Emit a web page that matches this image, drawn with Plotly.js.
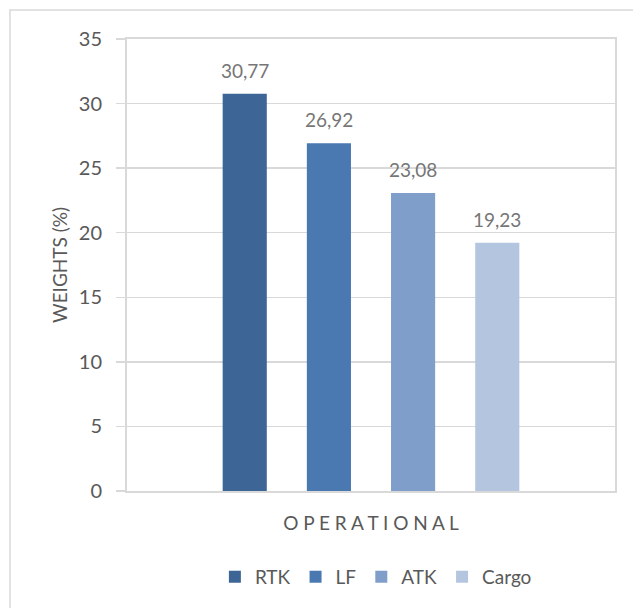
<!DOCTYPE html>
<html>
<head>
<meta charset="utf-8">
<script src="https://cdn.plot.ly/plotly-3.0.1.min.js"></script>
<style>html,body{margin:0;padding:0;background:#fff;}#chart{width:633px;height:608px;}</style>
</head>
<body>
<div id="chart"></div>
<script>
const category = ["OPERATIONAL"];
const categoryLabel = ["O P E R A T I O N A L"];
const seriesNames = ["RTK", "LF", "ATK", "Cargo"];
const seriesValues = [30.77, 26.92, 23.08, 19.23];
const seriesColors = ["#3D6596", "#4A78B1", "#7F9ECA", "#B4C5DF"];
const yTicks = [0, 5, 10, 15, 20, 25, 30, 35];

const FONT = "Lato, 'Open Sans', sans-serif";
const BARGAP = 0.31;
const PLOT_W = 633 - 127 - 18;
const pitch = PLOT_W * (1 - BARGAP) / seriesNames.length;

const traces = seriesNames.map((name, i) => ({
  type: "bar",
  name: name,
  x: category,
  y: [seriesValues[i]],
  marker: {color: seriesColors[i]},
  hoverinfo: "skip"
}));

const labelAnnotations = seriesNames.map((name, i) => ({
  x: category[0], y: seriesValues[i], xref: "x", yref: "y",
  text: seriesValues[i].toFixed(2).replace(".", ","),
  showarrow: false, xanchor: "center", yanchor: "bottom",
  xshift: (i - (seriesNames.length - 1) / 2) * pitch,
  yshift: 10,
  font: {family: FONT, size: 19, color: "#767676"}
}));

const layout = {
  width: 633, height: 608,
  margin: {l: 127, r: 18, t: 39, b: 117},
  paper_bgcolor: "#fff", plot_bgcolor: "#fff",
  separators: ",.",
  barmode: "group",
  bargap: BARGAP,
  bargroupgap: 0.476,
  font: {family: FONT, size: 19, color: "#595959"},
  showlegend: true,
  legend: {orientation: "h", x: 0.51, xanchor: "center", y: -0.19, yanchor: "middle",
           font: {family: FONT, size: 19, color: "#595959"}, itemwidth: 30, traceorder: "normal"},
  xaxis: {
    type: "category",
    tickvals: category, ticktext: categoryLabel,
    showline: true, linecolor: "#d9d9d9", linewidth: 2, mirror: true,
    ticks: "", showgrid: false, zeroline: false,
    tickfont: {family: FONT, size: 19, color: "#595959"},
    ticklabelstandoff: 14
  },
  yaxis: {
    range: [0, 35],
    tickvals: yTicks,
    showline: true, linecolor: "#d9d9d9", linewidth: 2, mirror: true,
    showgrid: true, gridcolor: "#d9d9d9", gridwidth: 1.5,
    zeroline: false,
    ticks: "outside", ticklen: 9, tickcolor: "#d9d9d9", tickwidth: 1.5,
    tickfont: {family: FONT, size: 20, color: "#595959"},
    ticklabelstandoff: 10,
    title: {text: "WEIGHTS (%)", font: {family: FONT, size: 19, color: "#595959"}, standoff: 6}
  },
  annotations: labelAnnotations,
  shapes: [{
    type: "rect", xref: "paper", yref: "paper",
    x0: -0.2398, x1: 1.06, y0: -0.29, y1: 1.064,
    line: {color: "#d9d9d9", width: 1.5}, fillcolor: "rgba(0,0,0,0)", layer: "below"
  }]
};

Plotly.newPlot("chart", traces, layout, {displayModeBar: false, staticPlot: true});
</script>
</body>
</html>
